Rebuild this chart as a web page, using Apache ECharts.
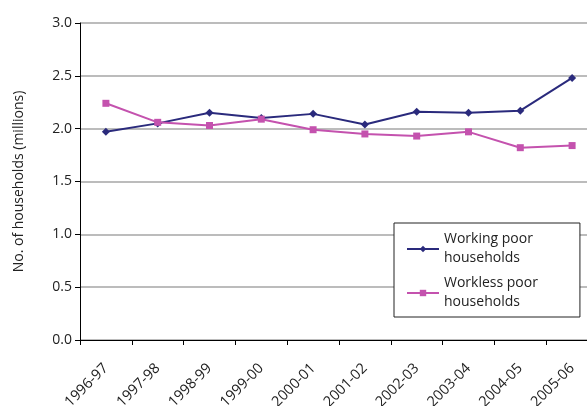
<!DOCTYPE html>
<html>
<head>
<meta charset="utf-8">
<script src="https://cdn.jsdelivr.net/npm/echarts@6/dist/echarts.min.js"></script>
<style>html,body{margin:0;padding:0;background:#fff;overflow:hidden;}#c{width:600px;height:406px;}</style>
</head>
<body>
<div id="c"></div>
<script>
var categories = ['1996-97','1997-98','1998-99','1999-00','2000-01','2001-02','2002-03','2003-04','2004-05','2005-06'];
var workingPoor = [1.97, 2.05, 2.15, 2.10, 2.14, 2.04, 2.16, 2.15, 2.17, 2.48];
var worklessPoor = [2.24, 2.06, 2.03, 2.09, 1.99, 1.95, 1.93, 1.97, 1.82, 1.84];
var yTicks = {min: 0, max: 3, interval: 0.5};
var seriesNames = ['Working poor\nhouseholds', 'Workless poor\nhouseholds'];
var yTitle = 'No. of households (millions)';

var font = 'Open Sans';
var chart = echarts.init(document.getElementById('c'), null, {renderer: 'canvas'});
chart.setOption({
  animation: false,
  textStyle: {fontFamily: font},
  grid: {left: 80, right: 2, top: 23, bottom: 66, containLabel: false, outerBoundsMode: 'none'},
  legend: {
    orient: 'vertical',
    left: 394, top: 223,
    width: 185,
    backgroundColor: '#fff',
    borderColor: '#222',
    borderWidth: 1,
    padding: [7, 42, 5, 12],
    itemGap: 6,
    itemWidth: 32,
    itemHeight: 8,
    textStyle: {fontFamily: font, fontSize: 14, color: '#222', lineHeight: 19},
    data: seriesNames
  },
  xAxis: {
    type: 'category',
    data: categories,
    boundaryGap: true,
    axisLine: {lineStyle: {color: '#000', width: 1}},
    axisTick: {show: true, length: 5, inside: false, lineStyle: {color: '#000'}},
    axisLabel: {rotate: 45, fontSize: 14.5, color: '#222', margin: 26, fontFamily: font}
  },
  yAxis: {
    type: 'value',
    min: yTicks.min, max: yTicks.max, interval: yTicks.interval,
    name: yTitle,
    nameLocation: 'middle',
    nameGap: 54,
    nameTextStyle: {fontSize: 14, color: '#222', fontFamily: font},
    axisLine: {show: true, lineStyle: {color: '#000', width: 1}},
    axisTick: {show: true, length: 5, lineStyle: {color: '#000'}},
    axisLabel: {fontSize: 14, color: '#222', margin: 8, fontFamily: font,
      formatter: function (v) { return v.toFixed(1); }},
    splitLine: {show: true, lineStyle: {color: '#a6a6a6', width: 1.5}}
  },
  series: [
    {
      name: seriesNames[0], type: 'line', data: workingPoor,
      symbol: 'diamond', symbolSize: 8,
      lineStyle: {color: '#2A2A7C', width: 2},
      itemStyle: {color: '#2A2A7C'}
    },
    {
      name: seriesNames[1], type: 'line', data: worklessPoor,
      symbol: 'rect', symbolSize: 7,
      lineStyle: {color: '#C452AE', width: 2},
      itemStyle: {color: '#C452AE'}
    }
  ]
});
</script>
</body>
</html>
